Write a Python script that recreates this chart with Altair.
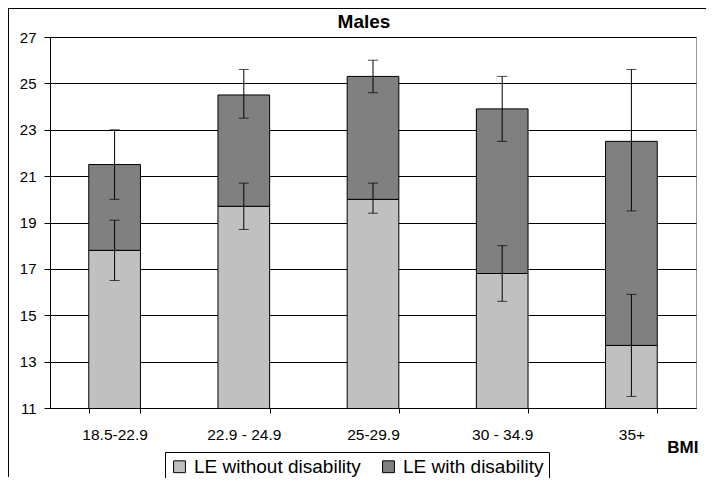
import altair as alt
import pandas as pd

categories = ["18.5-22.9", "22.9 - 24.9", "25-29.9", "30 - 34.9", "35+"]
le_without = [17.8, 19.7, 20.0, 16.8, 13.7]
le_total = [21.5, 24.5, 25.3, 23.9, 22.5]
err_without_low = [16.5, 18.7, 19.4, 15.6, 11.5]
err_without_high = [19.1, 20.7, 20.7, 18.0, 15.9]
err_total_low = [20.0, 23.5, 24.6, 22.5, 19.5]
err_total_high = [23.0, 25.6, 26.0, 25.3, 25.6]
y_ticks = [11, 13, 15, 17, 19, 21, 23, 25, 27]
chart_title = "Males"

S1 = "LE without disability"
S2 = "LE with disability"

rows = []
for i, c in enumerate(categories):
    rows.append({"BMI": c, "series": S1, "start": 0, "end": le_without[i]})
    rows.append({"BMI": c, "series": S2, "start": le_without[i], "end": le_total[i]})
bars_df = pd.DataFrame(rows)

err_rows = []
for i, c in enumerate(categories):
    err_rows.append({"BMI": c, "lo": err_without_low[i], "hi": err_without_high[i]})
    err_rows.append({"BMI": c, "lo": err_total_low[i], "hi": err_total_high[i]})
err_df = pd.DataFrame(err_rows)

x_enc = alt.X(
    "BMI:N",
    sort=categories,
    scale=alt.Scale(paddingInner=0.6, paddingOuter=0.3),
    axis=alt.Axis(
        title="BMI", labelAngle=0, labelFontSize=15.5, labelPadding=14,
        labelColor="black", tickBand="extent", tickSize=5, tickColor="black",
        domainColor="black", titleFontWeight="bold", titleFontSize=17,
        titleAnchor="end", titleAlign="right", titleX=648, titleY=39,
        titleBaseline="middle", titleColor="black",
    ),
)
y_scale = alt.Scale(domain=[11, 27], nice=False, zero=False)

bars = alt.Chart(bars_df).mark_bar(clip=True, stroke="black", strokeWidth=1).encode(
    x=x_enc,
    y=alt.Y(
        "start:Q", scale=y_scale,
        axis=alt.Axis(
            title=None, values=y_ticks, labelFontSize=15, labelColor="black",
            tickSize=6, tickColor="black", domainColor="black", grid=True,
            gridColor="black", gridOpacity=1, labelPadding=8,
        ),
    ),
    y2="end:Q",
    color=alt.Color(
        "series:N",
        scale=alt.Scale(domain=[S1, S2], range=["#C0C0C0", "#808080"]),
        legend=alt.Legend(
            title=None, orient="none", legendX=115, legendY=415,
            direction="horizontal", symbolType="square", symbolSize=140,
            symbolStrokeColor="black", symbolStrokeWidth=1, symbolOpacity=1,
            labelFontSize=19, labelColor="black", strokeColor="black",
            fillColor="white", padding=5, columnPadding=18, labelOffset=5,
            symbolOffset=0, labelLimit=400,
        ),
    ),
)

err_rule = alt.Chart(err_df).mark_rule(color="black", strokeWidth=1).encode(
    x=alt.X("BMI:N", sort=categories), y="lo:Q", y2="hi:Q"
)
cap_lo = alt.Chart(err_df).mark_tick(color="black", thickness=1, size=10, orient="horizontal").encode(
    x=alt.X("BMI:N", sort=categories), y="lo:Q"
)
cap_hi = alt.Chart(err_df).mark_tick(color="black", thickness=1, size=10, orient="horizontal").encode(
    x=alt.X("BMI:N", sort=categories), y="hi:Q"
)

title_text = alt.Chart(pd.DataFrame({"t": [chart_title]})).mark_text(
    fontSize=19, fontWeight="bold", color="black", baseline="middle", align="center"
).encode(x=alt.value(314), y=alt.value(-15), text="t:N")

border_left = alt.Chart(pd.DataFrame({"a": [0]})).mark_rule(color="black", strokeWidth=1).encode(
    x=alt.value(-41.5), y=alt.value(-29), y2=alt.value(440)
)
border_top = alt.Chart(pd.DataFrame({"a": [0]})).mark_rule(color="black", strokeWidth=1).encode(
    x=alt.value(-42), x2=alt.value(700), y=alt.value(-28.5)
)

chart = alt.layer(bars, err_rule, cap_lo, cap_hi, title_text, border_left, border_top).properties(
    width=646, height=371,
    autosize=alt.AutoSizeParams(type="none"),
    padding={"left": 42, "top": 29, "right": 10, "bottom": 70},
).configure(
    font="Liberation Sans",
).configure_axisX(
    labelFontSize=15.5,
).configure_axisY(
    labelFontSize=15,
).configure_view(
    stroke="#999999", strokeWidth=1,
)

chart.save("out.html", embed_options={"renderer": "svg", "actions": False})
